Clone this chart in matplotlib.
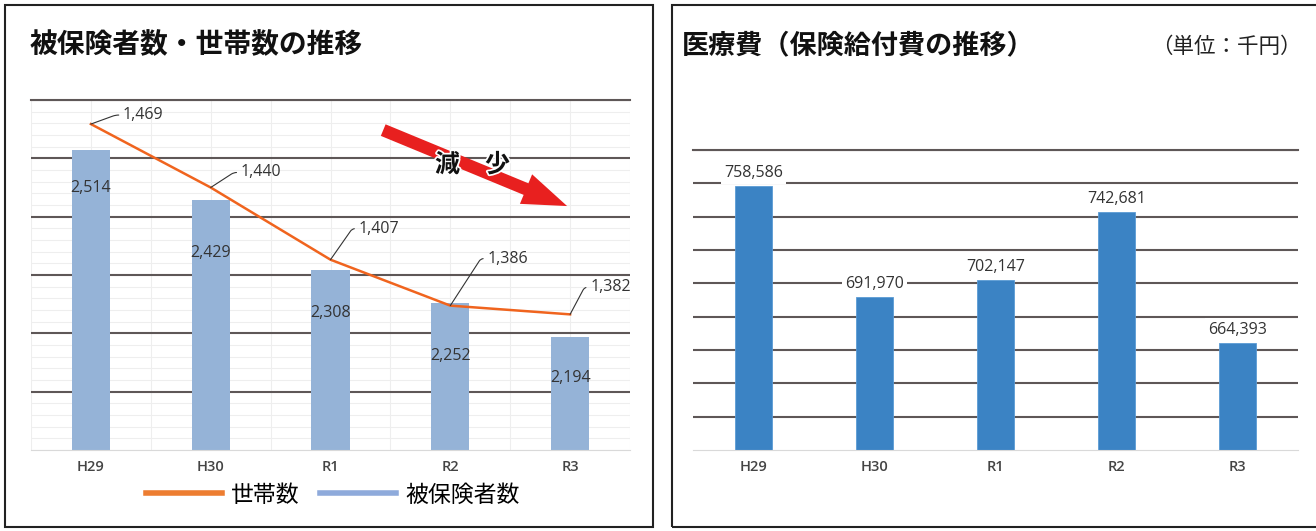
import matplotlib
matplotlib.use("Agg")
import matplotlib.pyplot as plt
import matplotlib.patches as mpatches
import matplotlib.patheffects as pe
from matplotlib.lines import Line2D
from matplotlib.ticker import MultipleLocator
import numpy as np

plt.rcParams['font.family'] = ['Noto Sans CJK JP', 'DejaVu Sans']
NUM_FONT = ['Open Sans', 'DejaVu Sans']

# ---- data ----
years = ["H29", "H30", "R1", "R2", "R3"]
insured = [2514, 2429, 2308, 2252, 2194]                  # 被保険者数
households = [1469, 1440, 1407, 1386, 1382]               # 世帯数
medical_cost = [758586, 691970, 702147, 742681, 664393]   # 保険給付費 (千円)

# ---- layout constants (pixels) ----
W, H = 1316, 531
bar_lbl_drop = [38, 53, 43, 53, 41]        # inner label distance below bar top
line_lbl_dx = [32, 30, 28, 37, 20]
line_lbl_dy = [9, 15, 31, 47, 27]
leader_ang = [20, 33, 55, 57, 62]

GRID_DARK = "#5e5757"
GRID_LIGHT = "#eeeeee"
TXT = "#333333"


def px(x0, y0, x1, y1):
    """pixel box with top-left origin -> figure rect"""
    return [x0 / W, 1 - y1 / H, (x1 - x0) / W, (y1 - y0) / H]


fig = plt.figure(figsize=(W / 100, H / 100), dpi=100)

# panel frames
for x0, x1 in [(5, 653), (672, 1340)]:
    fig.patches.append(mpatches.Rectangle(
        (x0 / W, 1 - 527 / H), (x1 - x0) / W, 522 / H,
        transform=fig.transFigure, fill=False, lw=1.5, ec="#222222"))

fig.text(30 / W, 1 - 45 / H, "被保険者数・世帯数の推移", fontsize=20,
         fontweight="bold", va="center", ha="left", color="#111111")
fig.text(682 / W, 1 - 45 / H, "医療費（保険給付費の推移）", fontsize=19.5,
         fontweight="bold", va="center", ha="left", color="#111111")
fig.text(1302 / W, 1 - 47 / H, "（単位：千円）", fontsize=15.5,
         va="center", ha="right", color="#222222")

x = np.arange(len(years))

# ---------------- Left: insured (bars) + households (line) ----------------
ax = fig.add_axes(px(31, 100, 630, 450))
ax.bar(x, insured, 0.32, color="#95b3d7", zorder=2)
ax.set_xlim(-0.5, 4.5)
ax.set_ylim(2000, 2600)
ax.set_yticks(np.arange(2100, 2601, 100))
ax.yaxis.set_minor_locator(MultipleLocator(20))
ax.set_xticks(x, years)
ax.xaxis.set_minor_locator(MultipleLocator(0.5))
ax.grid(which="minor", color=GRID_LIGHT, lw=0.8)
ax.grid(which="major", axis="x", color=GRID_LIGHT, lw=0.8)
ax.grid(which="major", axis="y", color=GRID_DARK, lw=1.5)
ax.set_axisbelow(True)
for s in ("left", "right"):
    ax.spines[s].set_visible(False)
ax.spines["top"].set_color(GRID_DARK)
ax.spines["top"].set_linewidth(1.5)
ax.spines["bottom"].set_color("#d9d9d9")
ax.tick_params(which="both", length=0)
ax.tick_params(axis="x", labelsize=10.5, labelcolor="#444444", pad=7)
ax.tick_params(axis="y", labelleft=False)
for t in ax.get_xticklabels():
    t.set_family(NUM_FONT)
    t.set_fontweight("semibold")

for xi, v, d in zip(x, insured, bar_lbl_drop):
    ax.annotate(f"{v:,}", (xi, v), xytext=(0, -d), textcoords="offset pixels",
                ha="center", va="center", fontsize=11.5, color=TXT, zorder=4,
                family=NUM_FONT)

ax2 = ax.twinx()
ax2.plot(x, households, color="#f0641e", lw=1.8, zorder=3)
ax2.set_ylim(1320, 1480)
ax2.axis("off")
for xi, v, dx, dy, ang in zip(x, households, line_lbl_dx, line_lbl_dy, leader_ang):
    ax2.annotate(f"{v:,}", (xi, v), xytext=(dx, dy), textcoords="offset pixels",
                 ha="left", va="center", fontsize=11.5, color=TXT, family=NUM_FONT,
                 arrowprops=dict(arrowstyle="-", color=TXT, lw=0.8,
                                 shrinkA=1, shrinkB=0, relpos=(0, 0.5),
                                 connectionstyle=f"angle,angleA=0,angleB={ang},rad=3"))

# "減少" arrow
arrow = mpatches.FancyArrowPatch(
    (0.588, 0.914), (0.895, 0.697), transform=ax.transAxes,
    arrowstyle="simple,head_length=32,head_width=23,tail_width=9",
    color="#e8201f", lw=0, shrinkA=0, shrinkB=0, zorder=5)
ax.add_artist(arrow)
ax.text(0.737, 0.814, "減　少", transform=ax.transAxes, ha="center", va="center",
        fontsize=18, fontweight="bold", color="#111111", zorder=6,
        path_effects=[pe.withStroke(linewidth=2.5, foreground="white")])

handles = [Line2D([], [], color="#ed7d31", lw=4),
           Line2D([], [], color="#8eaadb", lw=4)]
fig.legend(handles, ["世帯数", "被保険者数"], loc="center",
           bbox_to_anchor=(333 / W, 1 - 495 / H), ncol=2, frameon=False,
           fontsize=16.5, handlelength=3.3, handletextpad=0.4, columnspacing=0.9)

# ---------------- Right: medical cost bars ----------------
axr = fig.add_axes(px(693, 150, 1298, 450))
axr.bar(x, medical_cost, 0.31, color="#3b83c4", ec="#5b9bd5", lw=0.6, zorder=2)
axr.set_xlim(-0.5, 4.5)
axr.set_ylim(600000, 780000)
axr.set_yticks(np.arange(620000, 780001, 20000))
axr.set_xticks(x, years)
axr.grid(axis="y", color=GRID_DARK, lw=1.5)
axr.set_axisbelow(True)
for s in ("left", "right"):
    axr.spines[s].set_visible(False)
axr.spines["top"].set_color(GRID_DARK)
axr.spines["top"].set_linewidth(1.5)
axr.spines["bottom"].set_color("#d9d9d9")
axr.tick_params(which="both", length=0)
axr.tick_params(axis="x", labelsize=10.5, labelcolor="#444444", pad=7)
axr.tick_params(axis="y", labelleft=False)
for t in axr.get_xticklabels():
    t.set_family(NUM_FONT)
    t.set_fontweight("semibold")

for xi, v in zip(x, medical_cost):
    axr.annotate(f"{v:,}", (xi, v), xytext=(0, 13), textcoords="offset pixels",
                 ha="center", va="center", fontsize=11.5, color=TXT, zorder=4,
                 family=NUM_FONT,
                 bbox=dict(boxstyle="square,pad=0.2", fc="white", ec="none"))

fig.savefig("out.png", dpi=100)
